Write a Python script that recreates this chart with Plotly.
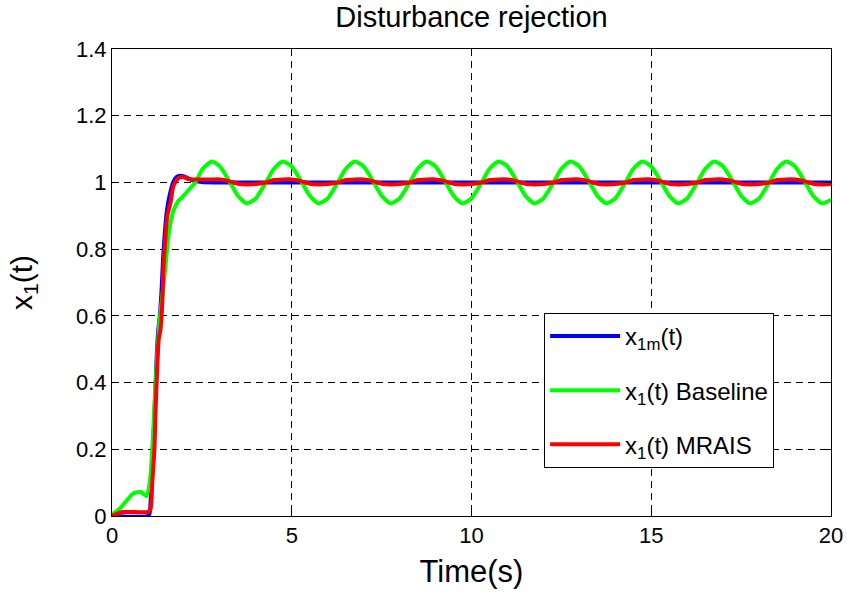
import plotly.graph_objects as go

# ---- data ----
t_model = [0, 1.0, 1.05, 1.10, 1.16, 1.20, 1.24, 1.28, 1.33, 1.38, 1.42, 1.47, 1.52,
           1.60, 1.70, 1.80, 1.90, 2.00, 2.20, 2.50, 3.00, 20.0]
x_model = [0, 0, 0.01, 0.12, 0.25, 0.36, 0.47, 0.55, 0.60, 0.68, 0.77, 0.85, 0.91,
           0.96, 1.00, 1.017, 1.02, 1.018, 1.008, 1.001, 1.0, 1.0]

t_base = [0, 0.2, 0.4, 0.6, 0.8, 0.95, 1.05, 1.12, 1.18, 1.25, 1.32, 1.40, 1.48,
          1.56, 1.63, 1.71, 1.85, 1.96, 2.13, 2.32, 2.52, 2.78,
          3.0, 3.25, 3.5, 3.75, 4.0, 4.25, 4.5, 4.75,
          5.0, 5.25, 5.5, 5.75, 6.0, 6.25, 6.5, 6.75,
          7.0, 7.25, 7.5, 7.75, 8.0, 8.25, 8.5, 8.75,
          9.0, 9.25, 9.5, 9.75, 10.0, 10.25, 10.5, 10.75,
          11.0, 11.25, 11.5, 11.75, 12.0, 12.25, 12.5, 12.75,
          13.0, 13.25, 13.5, 13.75, 14.0, 14.25, 14.5, 14.75,
          15.0, 15.25, 15.5, 15.75, 16.0, 16.25, 16.5, 16.75,
          17.0, 17.25, 17.5, 17.75, 18.0, 18.25, 18.5, 18.75,
          19.0, 19.25, 19.5, 19.75, 20.0]
x_base = [0.005, 0.02, 0.045, 0.068, 0.072, 0.06, 0.10, 0.20, 0.33, 0.47, 0.58, 0.66, 0.74,
          0.83, 0.88, 0.915, 0.945, 0.956, 0.977, 1.0, 1.04, 1.063,
          1.048, 1.006, 0.960, 0.937, 0.952, 0.994, 1.040, 1.063,
          1.048, 1.006, 0.960, 0.937, 0.952, 0.994, 1.040, 1.063,
          1.048, 1.006, 0.960, 0.937, 0.952, 0.994, 1.040, 1.063,
          1.048, 1.006, 0.960, 0.937, 0.952, 0.994, 1.040, 1.063,
          1.048, 1.006, 0.960, 0.937, 0.952, 0.994, 1.040, 1.063,
          1.048, 1.006, 0.960, 0.937, 0.952, 0.994, 1.040, 1.063,
          1.048, 1.006, 0.960, 0.937, 0.952, 0.994, 1.040, 1.063,
          1.048, 1.006, 0.960, 0.937, 0.952, 0.994, 1.040, 1.063,
          1.048, 1.006, 0.960, 0.937, 0.948]

t_mrais = [0, 0.1, 0.3, 1.0, 1.07, 1.12, 1.18, 1.21, 1.26, 1.30, 1.35, 1.40, 1.43,
           1.49, 1.54, 1.63, 1.71, 1.85, 1.99, 2.13, 2.5, 2.78,
           3.0, 3.25, 3.5, 3.75, 4.0, 4.25, 4.5, 4.75,
           5.0, 5.25, 5.5, 5.75, 6.0, 6.25, 6.5, 6.75,
           7.0, 7.25, 7.5, 7.75, 8.0, 8.25, 8.5, 8.75,
           9.0, 9.25, 9.5, 9.75, 10.0, 10.25, 10.5, 10.75,
           11.0, 11.25, 11.5, 11.75, 12.0, 12.25, 12.5, 12.75,
           13.0, 13.25, 13.5, 13.75, 14.0, 14.25, 14.5, 14.75,
           15.0, 15.25, 15.5, 15.75, 16.0, 16.25, 16.5, 16.75,
           17.0, 17.25, 17.5, 17.75, 18.0, 18.25, 18.5, 18.75,
           19.0, 19.25, 19.5, 19.75, 20.0]
x_mrais = [0, 0.005, 0.012, 0.012, 0.02, 0.10, 0.20, 0.31, 0.45, 0.53, 0.56, 0.64, 0.74,
           0.84, 0.90, 0.94, 0.99, 1.013, 1.016, 1.010, 1.009, 1.009,
           1.009, 1.004, 0.996, 0.994, 0.995, 0.999, 1.007, 1.009,
           1.009, 1.004, 0.996, 0.994, 0.995, 0.999, 1.007, 1.009,
           1.009, 1.004, 0.996, 0.994, 0.995, 0.999, 1.007, 1.009,
           1.009, 1.004, 0.996, 0.994, 0.995, 0.999, 1.007, 1.009,
           1.009, 1.004, 0.996, 0.994, 0.995, 0.999, 1.007, 1.009,
           1.009, 1.004, 0.996, 0.994, 0.995, 0.999, 1.007, 1.009,
           1.009, 1.004, 0.996, 0.994, 0.995, 0.999, 1.007, 1.009,
           1.009, 1.004, 0.996, 0.994, 0.995, 0.999, 1.007, 1.009,
           1.009, 1.004, 0.996, 0.994, 0.995]

names = ["x<sub>1m</sub>(t)", "x<sub>1</sub>(t) Baseline", "x<sub>1</sub>(t) MRAIS"]
colors = ["#0000FF", "#00FF00", "#FF0000"]

FONT = "Liberation Sans, Arial, Helvetica, sans-serif"

fig = go.Figure()
for i, (tx, yy) in enumerate([(t_model, x_model), (t_base, x_base), (t_mrais, x_mrais)]):
    fig.add_trace(go.Scatter(
        x=tx, y=yy, mode="lines", name=names[i], legendgroup=str(i),
        line=dict(color=colors[i], width=4, shape="spline", smoothing=0.6),
    ))

axis_common = dict(
    showline=True, linecolor="black", linewidth=1, mirror="ticks",
    ticks="inside", ticklen=7, tickcolor="black",
    showgrid=True, gridcolor="black", gridwidth=1, griddash="7px,5px",
    zeroline=False, tickfont=dict(family=FONT, size=22, color="black"),
)

fig.update_layout(
    width=847, height=598,
    margin=dict(l=112, r=16, t=49, b=82, autoexpand=False),
    paper_bgcolor="white", plot_bgcolor="white",
    font=dict(family=FONT, color="black"),
    title=dict(text="Disturbance rejection", x=0.5567, xanchor="center",
               y=0.988, yanchor="top", yref="container",
               font=dict(family=FONT, size=29, color="black")),
    xaxis=dict(range=[0, 20], dtick=5, tick0=0,
               title=dict(text="Time(s)", font=dict(family=FONT, size=31, color="black"), standoff=12),
               **axis_common),
    yaxis=dict(range=[0, 1.4], dtick=0.2, tick0=0,
               title=dict(text="x<sub>1</sub>(t)", font=dict(family=FONT, size=30, color="black"), standoff=34),
               **axis_common),
    legend=dict(x=0.601, y=0.435, xanchor="left", yanchor="top",
                bgcolor="white", bordercolor="black", borderwidth=1,
                font=dict(family=FONT, size=24, color="black"),
                tracegroupgap=20, itemwidth=70),
    showlegend=True,
)

fig.write_html("out.html", config={"displayModeBar": False},
               post_script="document.body.style.margin='0';document.body.style.padding='0';")
